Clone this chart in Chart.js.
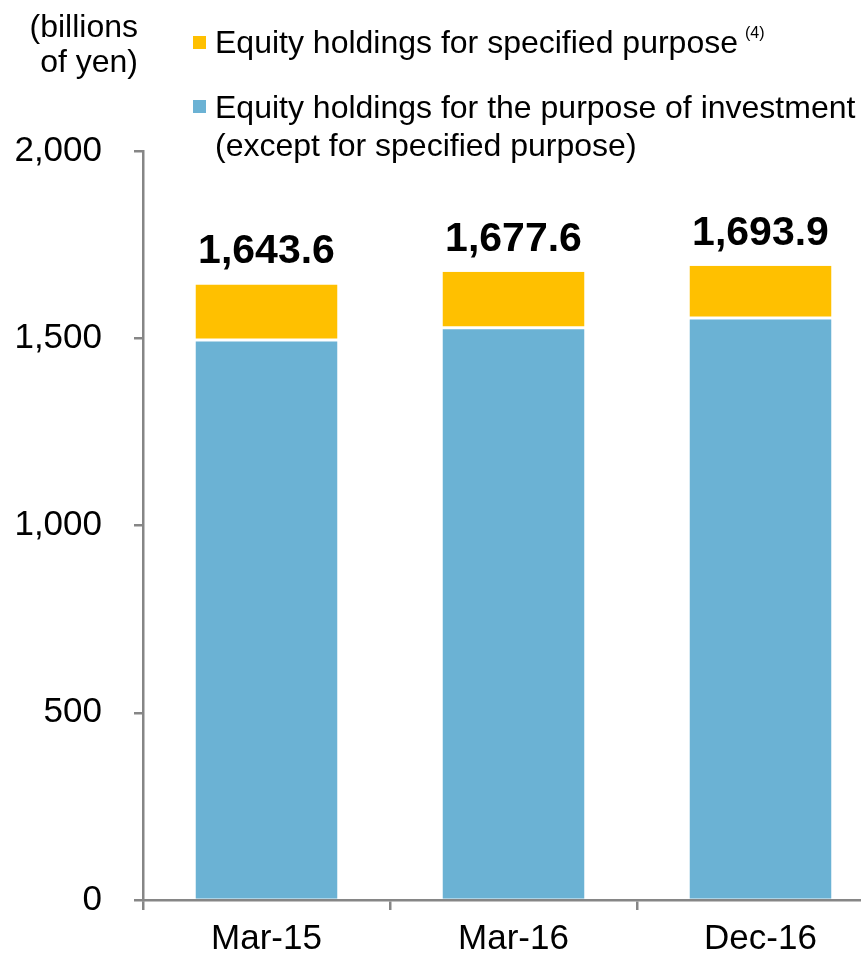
<!DOCTYPE html>
<html>
<head>
<meta charset="utf-8">
<script src="https://cdn.jsdelivr.net/npm/chart.js@4"></script>
<style>
  html, body { margin: 0; padding: 0; background: #fff; overflow: hidden; }
  #wrap { position: relative; width: 886px; height: 956px; }
  #wrap canvas { position: absolute; left: 0; top: 0; }
  .txt { position: absolute; font-family: "Liberation Sans", Arial, sans-serif; font-size: 32px; line-height: 32px; color: #000; white-space: nowrap; }
  .sq { position: absolute; width: 13px; height: 13px; }
  sup { font-size: 16px; vertical-align: 0; position: relative; top: -15px; margin-left: 7px; }
</style>
</head>
<body>
<div id="wrap">
  <canvas id="equityChart" width="886" height="956"></canvas>
  <div class="txt" style="right:748px; top:10px; text-align:right;">(billions<br><span style="display:inline-block;margin-top:3px">of yen)</span></div>
  <div class="sq" style="left:193px; top:36px; background:#FFC000;"></div>
  <div class="txt" style="left:215px; top:26px;">Equity holdings for specified purpose<sup>(4)</sup></div>
  <div class="sq" style="left:193px; top:100px; background:#6BB2D4;"></div>
  <div class="txt" style="left:215px; top:91px;">Equity holdings for the purpose of investment</div>
  <div class="txt" style="left:215px; top:129px;">(except for specified purpose)</div>
</div>
<script>
    // chart values (billions of yen)
    const periods = ['Mar-15', 'Mar-16', 'Dec-16'];
    const investment = [1495.0, 1528.0, 1554.0];
    const specified = [148.6, 149.6, 139.9];
    const totals = [1643.6, 1677.6, 1693.9];
    const yTicks = [0, 500, 1000, 1500, 2000];

    const axisGray = '#868686';

    // draws the bold total above each stack
    const totalLabels = {
        id: 'totalLabels',
        afterDatasetsDraw(chart) {
            const ctx = chart.ctx;
            const meta = chart.getDatasetMeta(1);
            ctx.save();
            ctx.font = 'bold 41px "Liberation Sans", Arial, sans-serif';
            ctx.fillStyle = '#000';
            ctx.textAlign = 'center';
            ctx.textBaseline = 'alphabetic';
            meta.data.forEach((bar, i) => {
                const txt = totals[i].toLocaleString('en-US', { minimumFractionDigits: 1 });
                ctx.fillText(txt, bar.x, bar.y - 21);
            });
            ctx.restore();
        }
    };

    const ctx = document.getElementById('equityChart').getContext('2d');
    new Chart(ctx, {
        type: 'bar',
        data: {
            labels: periods,
            datasets: [{
                label: 'Equity holdings for the purpose of investment (except for specified purpose)',
                data: investment,
                backgroundColor: '#6BB2D4',
                borderColor: '#fff',
                borderWidth: { top: 1.5, bottom: 0, left: 0, right: 0 },
                borderSkipped: false
            }, {
                label: 'Equity holdings for specified purpose',
                data: specified,
                backgroundColor: '#FFC000',
                borderColor: '#fff',
                borderWidth: { top: 0, bottom: 1.5, left: 0, right: 0 },
                borderSkipped: false
            }]
        },
        options: {
            responsive: false,
            animation: false,
            categoryPercentage: 1,
            barPercentage: 0.575,
            layout: { padding: { top: 151, right: 2, left: 0, bottom: 0 } },
            plugins: {
                legend: { display: false },
                tooltip: { enabled: false }
            },
            scales: {
                x: {
                    stacked: true,
                    grid: {
                        drawOnChartArea: false,
                        drawTicks: true,
                        tickLength: 10,
                        color: axisGray,
                        lineWidth: 2.5
                    },
                    border: { color: axisGray, width: 2.5 },
                    ticks: {
                        color: '#000',
                        padding: 8,
                        font: { family: '"Liberation Sans", Arial, sans-serif', size: 35 }
                    },
                    afterFit(scale) { scale.height = 56; }
                },
                y: {
                    stacked: true,
                    min: 0,
                    max: 2000,
                    afterBuildTicks(scale) {
                        scale.ticks = yTicks.map(v => ({ value: v }));
                    },
                    grid: {
                        drawOnChartArea: false,
                        drawTicks: true,
                        tickLength: 9,
                        color: axisGray,
                        lineWidth: 2.5
                    },
                    border: { color: axisGray, width: 2.5 },
                    ticks: {
                        color: '#000',
                        padding: 32,
                        font: { family: '"Liberation Sans", Arial, sans-serif', size: 35 },
                        callback: v => v.toLocaleString('en-US')
                    },
                    afterFit(scale) { scale.width = 143; }
                }
            }
        },
        plugins: [totalLabels]
    });
</script>
</body>
</html>
